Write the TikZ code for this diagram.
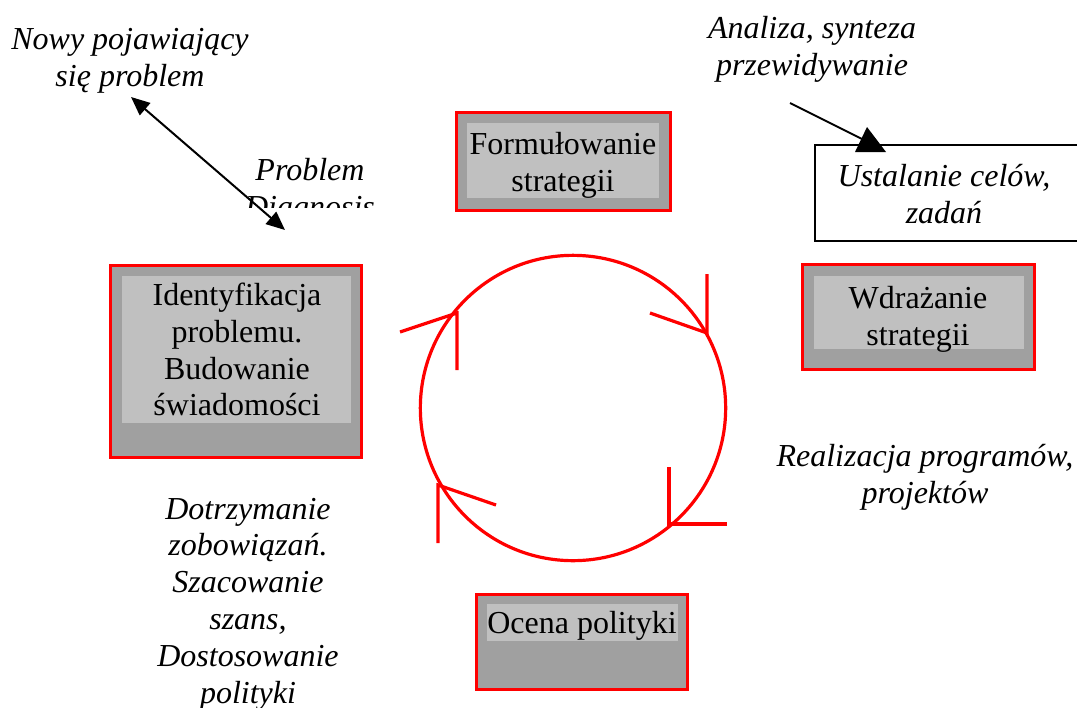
\documentclass[tikz,border=0pt]{standalone}
\usepackage{fontspec}
\setmainfont{Liberation Serif}
\usetikzlibrary{fit,arrows.meta}
\definecolor{outergray}{HTML}{A0A0A0}
\definecolor{innergray}{HTML}{C0C0C0}
\tikzset{myhead/.tip={Triangle[length=14pt,width=12pt]}}
\begin{document}
\begin{tikzpicture}[x=0.75pt,y=-0.75pt,
  outerbox/.style={draw=red, line width=2.5pt, fill=outergray, inner sep=0pt},
  innerbox/.style={fill=innergray, inner sep=0pt},
  boxtext/.style={font=\fontsize{24}{27.6}\selectfont, align=center, inner sep=0pt},
  itext/.style={font=\fontsize{24}{27.6}\selectfont\itshape, align=center, inner sep=0pt},
  cyc/.style={draw=red, line width=2.4pt},
  blk/.style={draw=black, line width=1.5pt}]
\useasboundingbox (0,0) rectangle (1077,707);

% boxes of the cycle
\node[outerbox, fit={(110.5,265.5)(361.5,457.5)}] (ident) {};
\node[innerbox, fit={(122,276)(351,423)}] (identIn) {};
\node[boxtext] (identT) at (237,349.5) {Identyfikacja\\problemu.\\Budowanie\\świadomości};

\node[outerbox, fit={(456.5,112.5)(670.5,210.5)}] (form) {};
\node[innerbox, fit={(467,123)(659,198)}] (formIn) {};
\node[boxtext] (formT) at (563,165) {Formułowanie\\strategii};

\node[outerbox, fit={(802.5,264.5)(1034.5,369.5)}] (wdr) {};
\node[innerbox, fit={(814,276)(1024,349)}] (wdrIn) {};
\node[boxtext] (wdrT) at (918,319) {Wdrażanie\\strategii};

\node[outerbox, fit={(476.5,594.5)(687.5,689.5)}] (ocena) {};
\node[innerbox, fit={(487,604)(678,641)}] (ocenaIn) {};
\node[boxtext] (ocenaT) at (582,625.5) {Ocena polityki};

% goals box
\node[blk, fit={(814.5,144.5)(1080,241)}, inner sep=0pt] (ust) {};
\node[itext] (ustT) at (944,194) {Ustalanie celów,\\zadań};

% free texts
\node[itext] (nowy) at (130,61) {Nowy pojawiający\\się problem};
\node[itext] (anal) at (812,49) {Analiza, synteza\\przewidywanie};
\node[itext] (real) at (925,477) {Realizacja programów,\\projektów};
\node[itext] (dotrz) at (248,604) {Dotrzymanie\\zobowiązań.\\Szacowanie\\szans,\\Dostosowanie\\polityki};
\begin{scope}
  \clip (200,140) rectangle (400,207);
  \node[itext] (diag) at (310,191) {Problem\\Diagnosis};
\end{scope}

% cycle
\node[cyc, circle, minimum size=229pt, inner sep=0pt] (cycle) at (573,408) {};
\draw[cyc] (400,332) -- (457,313) -- (457,370);
\draw[cyc] (650,313) -- (707,333) -- (707,274);
\draw[cyc] (669,467) -- (669,524) -- (727,524);
\draw[cyc] (496,505) -- (438,485) -- (438,543);

% black arrows
\coordinate (p1) at (131,97);
\coordinate (p2) at (285,230);
\draw[blk, myhead-myhead] (p1) -- (p2);

\coordinate (a1) at (790,103);
\coordinate (a2) at (866,141);
\draw[blk] (a1) -- (a2);
\fill[black] (867,127) -- (855,152) -- (886,152) -- cycle;
\end{tikzpicture}
\end{document}
